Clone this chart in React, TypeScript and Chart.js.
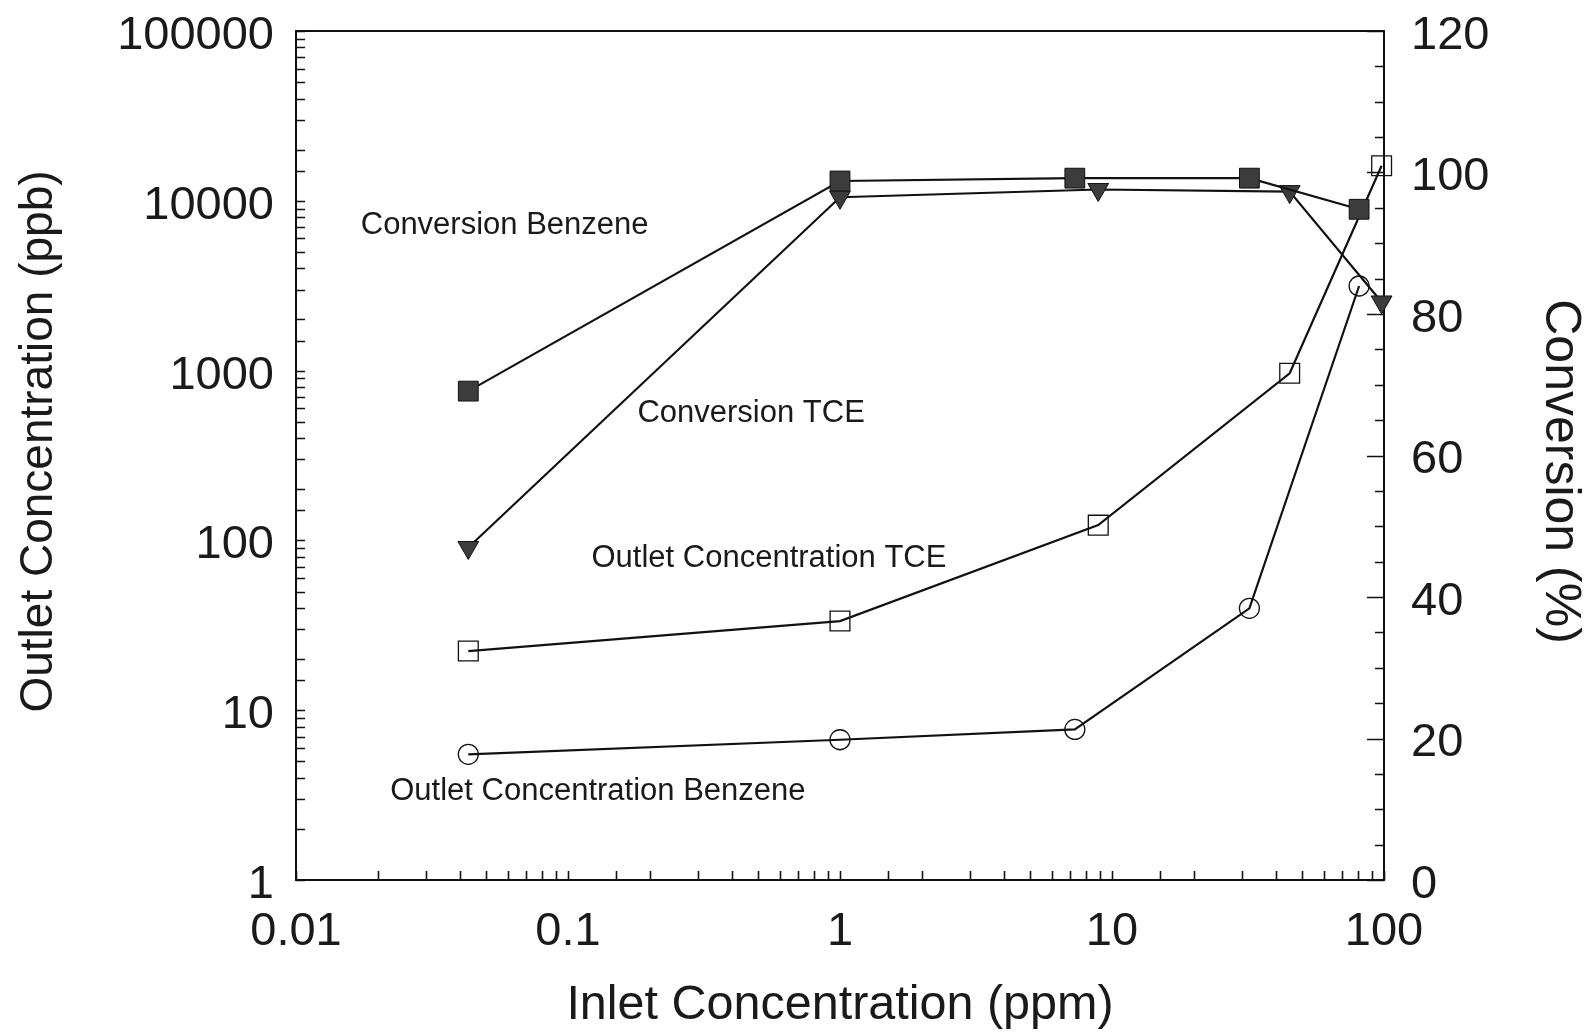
import React, { useEffect, useRef } from "react";
import { Chart, registerables } from "chart.js";

Chart.register(...registerables);

// Inlet concentrations (ppm) for each compound
const benzeneInlet = [0.043, 1.0, 7.3, 32, 81];
const tceInlet = [0.043, 1.0, 8.9, 45, 98];

// Conversion (%) on the right axis
const conversionBenzene = [69.1, 98.8, 99.2, 99.2, 94.8];
const conversionTCE = [47.0, 96.5, 97.6, 97.3, 81.7];

// Outlet concentration (ppb) on the left axis
const outletTCE = [22.3, 33.5, 123, 964, 16100];
const outletBenzene = [5.5, 6.7, 7.7, 39.8, 3150];

// Labelled tick values
const xTickLabels = [0.01, 0.1, 1, 10, 100];
const leftTickLabels = [1, 10, 100, 1000, 10000, 100000];
const rightTickLabels = [0, 20, 40, 60, 80, 100, 120];

// In-plot curve names, anchored in data units (ppm, ppb)
const noteTexts = [
  "Conversion Benzene",
  "Conversion TCE",
  "Outlet Concentration TCE",
  "Outlet Concentration Benzene",
];
const noteX = [0.0173, 0.18, 0.122, 0.0222];
const noteY = [7160, 559, 78.8, 3.32];

const leftTitle = "Outlet Concentration (ppb)";
const rightTitle = "Conversion (%)";

const FONT = '"Liberation Sans", Arial, Helvetica, sans-serif';
const INK = "#1a1a1a";

const sameDecade = (a: number, b: number) =>
  Math.abs(Math.log10(a) - Math.log10(b)) < 1e-6;

const frameAndTicks = {
  id: "frameAndTicks",
  beforeDatasetsDraw(chart: any) {
    const { ctx, chartArea: a, scales } = chart;
    ctx.save();
    ctx.strokeStyle = "#111";
    ctx.lineWidth = 2;
    ctx.strokeRect(a.left, a.top, a.right - a.left, a.bottom - a.top);

    ctx.lineWidth = 1.6;
    ctx.beginPath();
    for (const t of scales.x.ticks) {
      const px = Math.round(scales.x.getPixelForValue(t.value)) + 0.5;
      ctx.moveTo(px, a.bottom);
      ctx.lineTo(px, a.bottom - 9);
    }
    for (const t of scales.y.ticks) {
      const py = Math.round(scales.y.getPixelForValue(t.value)) + 0.5;
      ctx.moveTo(a.left, py);
      ctx.lineTo(a.left + 9, py);
    }
    for (const t of scales.y1.ticks) {
      const py = Math.round(scales.y1.getPixelForValue(t.value)) + 0.5;
      const len = t.value % 20 === 0 ? 17 : 9;
      ctx.moveTo(a.right, py);
      ctx.lineTo(a.right - len, py);
    }
    ctx.stroke();

    ctx.fillStyle = INK;
    ctx.font = `31px ${FONT}`;
    ctx.textAlign = "left";
    ctx.textBaseline = "middle";
    noteTexts.forEach((s, i) => {
      ctx.fillText(
        s,
        scales.x.getPixelForValue(noteX[i]),
        scales.y.getPixelForValue(noteY[i])
      );
    });
    ctx.restore();
  },
  afterDraw(chart: any) {
    const { ctx, chartArea: a, width } = chart;
    const midY = (a.top + a.bottom) / 2;
    ctx.save();
    ctx.fillStyle = INK;
    ctx.textAlign = "center";
    ctx.textBaseline = "middle";

    ctx.font = `46px ${FONT}`;
    ctx.save();
    ctx.translate(39, midY - 14);
    ctx.rotate(-Math.PI / 2);
    ctx.fillText(leftTitle, 0, 0);
    ctx.restore();

    ctx.font = `50px ${FONT}`;
    ctx.save();
    ctx.translate(width - 33, midY + 16);
    ctx.rotate(Math.PI / 2);
    ctx.fillText(rightTitle, 0, 0);
    ctx.restore();

    ctx.restore();
  },
};

const toPoints = (xs: number[], ys: number[]) =>
  xs.map((x, i) => ({ x, y: ys[i] }));

const dropPadding = (s: any) => {
  s.paddingTop = 0;
  s.paddingBottom = 0;
  s.paddingLeft = 0;
  s.paddingRight = 0;
};

export default function App() {
  const canvasRef = useRef<HTMLCanvasElement | null>(null);

  useEffect(() => {
    if (!canvasRef.current) return;
    const lineBase = {
      borderColor: "#111",
      borderWidth: 2.2,
      tension: 0,
      clip: false as const,
      pointBorderColor: "#111",
    };
    const tickFont = { family: FONT, size: 47, lineHeight: 1.0 };
    const chart = new Chart(canvasRef.current, {
      type: "line",
      data: {
        datasets: [
          {
            ...lineBase,
            label: "Conversion Benzene",
            data: toPoints(benzeneInlet, conversionBenzene),
            yAxisID: "y1",
            pointStyle: "rect",
            pointRadius: 14,
            pointBackgroundColor: "#3c3c3c",
            pointBorderWidth: 1,
          },
          {
            ...lineBase,
            label: "Conversion TCE",
            data: toPoints(tceInlet, conversionTCE),
            yAxisID: "y1",
            pointStyle: "triangle",
            pointRotation: 180,
            pointRadius: 12,
            pointBackgroundColor: "#3c3c3c",
            pointBorderWidth: 1,
          },
          {
            ...lineBase,
            label: "Outlet Concentration TCE",
            data: toPoints(tceInlet, outletTCE),
            yAxisID: "y",
            pointStyle: "rect",
            pointRadius: 14,
            pointBackgroundColor: "rgba(0,0,0,0)",
            pointBorderWidth: 1.3,
          },
          {
            ...lineBase,
            label: "Outlet Concentration Benzene",
            data: toPoints(benzeneInlet, outletBenzene),
            yAxisID: "y",
            pointStyle: "circle",
            pointRadius: 10,
            pointBackgroundColor: "rgba(0,0,0,0)",
            pointBorderWidth: 1.3,
          },
        ],
      },
      options: {
        animation: false,
        responsive: false,
        devicePixelRatio: 1,
        layout: { padding: { top: 31, left: 0, right: 0, bottom: 0 } },
        plugins: {
          legend: { display: false },
          tooltip: { enabled: false },
        },
        scales: {
          x: {
            type: "logarithmic",
            position: "bottom",
            min: 0.01,
            max: 100,
            grid: { display: false },
            border: { display: false },
            ticks: {
              autoSkip: false,
              maxRotation: 0,
              padding: 21,
              color: INK,
              font: tickFont,
              callback: (v: any) => {
                const hit = xTickLabels.find((t) => sameDecade(t, Number(v)));
                return hit !== undefined ? String(hit) : "";
              },
            },
            title: {
              display: true,
              text: "Inlet Concentration (ppm)",
              color: INK,
              font: { family: FONT, size: 48.5, lineHeight: 1.0 },
              padding: { top: 0, bottom: 2 },
            },
            afterFit: (s: any) => {
              s.height = 152;
              dropPadding(s);
            },
          },
          y: {
            type: "logarithmic",
            position: "left",
            min: 1,
            max: 100000,
            grid: { display: false },
            border: { display: false },
            ticks: {
              autoSkip: false,
              padding: 14,
              labelOffset: 5,
              color: INK,
              font: tickFont,
              callback: (v: any) => {
                const hit = leftTickLabels.find((t) => sameDecade(t, Number(v)));
                return hit !== undefined ? String(hit) : "";
              },
            },
            afterFit: (s: any) => {
              s.width = 296;
              dropPadding(s);
            },
          },
          y1: {
            type: "linear",
            position: "right",
            min: 0,
            max: 120,
            grid: { display: false },
            border: { display: false },
            ticks: {
              autoSkip: false,
              stepSize: 5,
              padding: 19,
              labelOffset: 5,
              color: INK,
              font: tickFont,
              callback: (v: any) =>
                rightTickLabels.includes(Number(v)) ? String(v) : "",
            },
            afterFit: (s: any) => {
              s.width = 209;
              dropPadding(s);
            },
          },
        },
      } as any,
      plugins: [frameAndTicks],
    });
    return () => chart.destroy();
  }, []);

  return (
    <div
      style={{
        position: "fixed",
        left: 0,
        top: 0,
        width: 1593,
        height: 1032,
        background: "#fff",
      }}
    >
      <canvas ref={canvasRef} width={1593} height={1032} />
    </div>
  );
}
